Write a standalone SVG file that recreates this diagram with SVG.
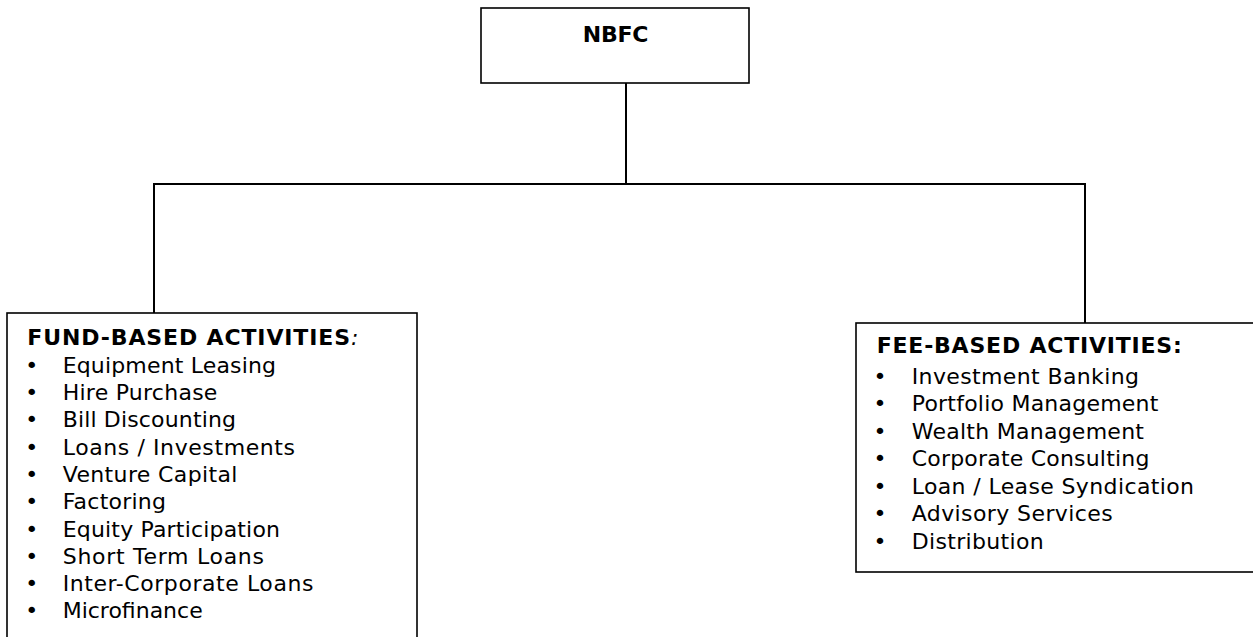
<svg xmlns="http://www.w3.org/2000/svg" width="1253" height="637" viewBox="0 0 1253 637">
<style>
.box{fill:#fff;stroke:#000;stroke-width:1.6}
.conn{fill:none;stroke:#000;stroke-width:2}
.t{font-family:"DejaVu Sans","Verdana",sans-serif;font-size:22px;fill:#000}
.b{font-weight:bold}
.i{font-style:italic;font-weight:normal}
</style>
<rect width="1253" height="637" fill="#fff"/>
<g id="connectors">
<path class="conn" d="M626,83 V184"/>
<path class="conn" d="M154,313 V184 H1085 V323"/>
</g>
<g id="nbfc">
<rect class="box" x="481" y="8" width="268" height="75"/>
<text class="t b" x="582.7" y="41.7" textLength="65.7" lengthAdjust="spacing">NBFC</text>
</g>
<g id="fund">
<rect class="box" x="7" y="313" width="410" height="400"/>
<text class="t b" x="27.3" y="345" textLength="331" lengthAdjust="spacing">FUND-BASED ACTIVITIES<tspan class="i">:</tspan></text>
<g class="t">
<text x="25.2" y="372.7">•</text><text x="62.7" y="372.7" textLength="213.3" lengthAdjust="spacing">Equipment Leasing</text>
<text x="25.2" y="400">•</text><text x="62.7" y="400" textLength="154.7" lengthAdjust="spacing">Hire Purchase</text>
<text x="25.2" y="427.3">•</text><text x="62.7" y="427.3" textLength="173.3" lengthAdjust="spacing">Bill Discounting</text>
<text x="25.2" y="454.6">•</text><text x="62.7" y="454.6" textLength="232.3" lengthAdjust="spacing">Loans / Investments</text>
<text x="25.2" y="481.9">•</text><text x="62.7" y="481.9" textLength="174.7" lengthAdjust="spacing">Venture Capital</text>
<text x="25.2" y="509.2">•</text><text x="62.7" y="509.2" textLength="103.3" lengthAdjust="spacing">Factoring</text>
<text x="25.2" y="536.5">•</text><text x="62.7" y="536.5" textLength="217.3" lengthAdjust="spacing">Equity Participation</text>
<text x="25.2" y="563.8">•</text><text x="62.7" y="563.8" textLength="201.3" lengthAdjust="spacing">Short Term Loans</text>
<text x="25.2" y="591.1">•</text><text x="62.7" y="591.1" textLength="250.7" lengthAdjust="spacing">Inter-Corporate Loans</text>
<text x="25.2" y="618.4">•</text><text x="62.7" y="618.4" textLength="140" lengthAdjust="spacing">Microfinance</text>
</g>
</g>
<g id="fee">
<rect class="box" x="856" y="323" width="420" height="249"/>
<text class="t b" x="876.7" y="353" textLength="305" lengthAdjust="spacing">FEE-BASED ACTIVITIES:</text>
<g class="t">
<text x="873.5" y="383.5">•</text><text x="911.7" y="383.5" textLength="227.3" lengthAdjust="spacing">Investment Banking</text>
<text x="873.5" y="411">•</text><text x="911.7" y="411" textLength="246.7" lengthAdjust="spacing">Portfolio Management</text>
<text x="873.5" y="438.5">•</text><text x="911.7" y="438.5" textLength="232.3" lengthAdjust="spacing">Wealth Management</text>
<text x="873.5" y="466">•</text><text x="911.7" y="466" textLength="237.7" lengthAdjust="spacing">Corporate Consulting</text>
<text x="873.5" y="493.5">•</text><text x="911.7" y="493.5" textLength="282.3" lengthAdjust="spacing">Loan / Lease Syndication</text>
<text x="873.5" y="521">•</text><text x="911.7" y="521" textLength="201" lengthAdjust="spacing">Advisory Services</text>
<text x="873.5" y="548.5">•</text><text x="911.7" y="548.5" textLength="132" lengthAdjust="spacing">Distribution</text>
</g>
</g>
</svg>
